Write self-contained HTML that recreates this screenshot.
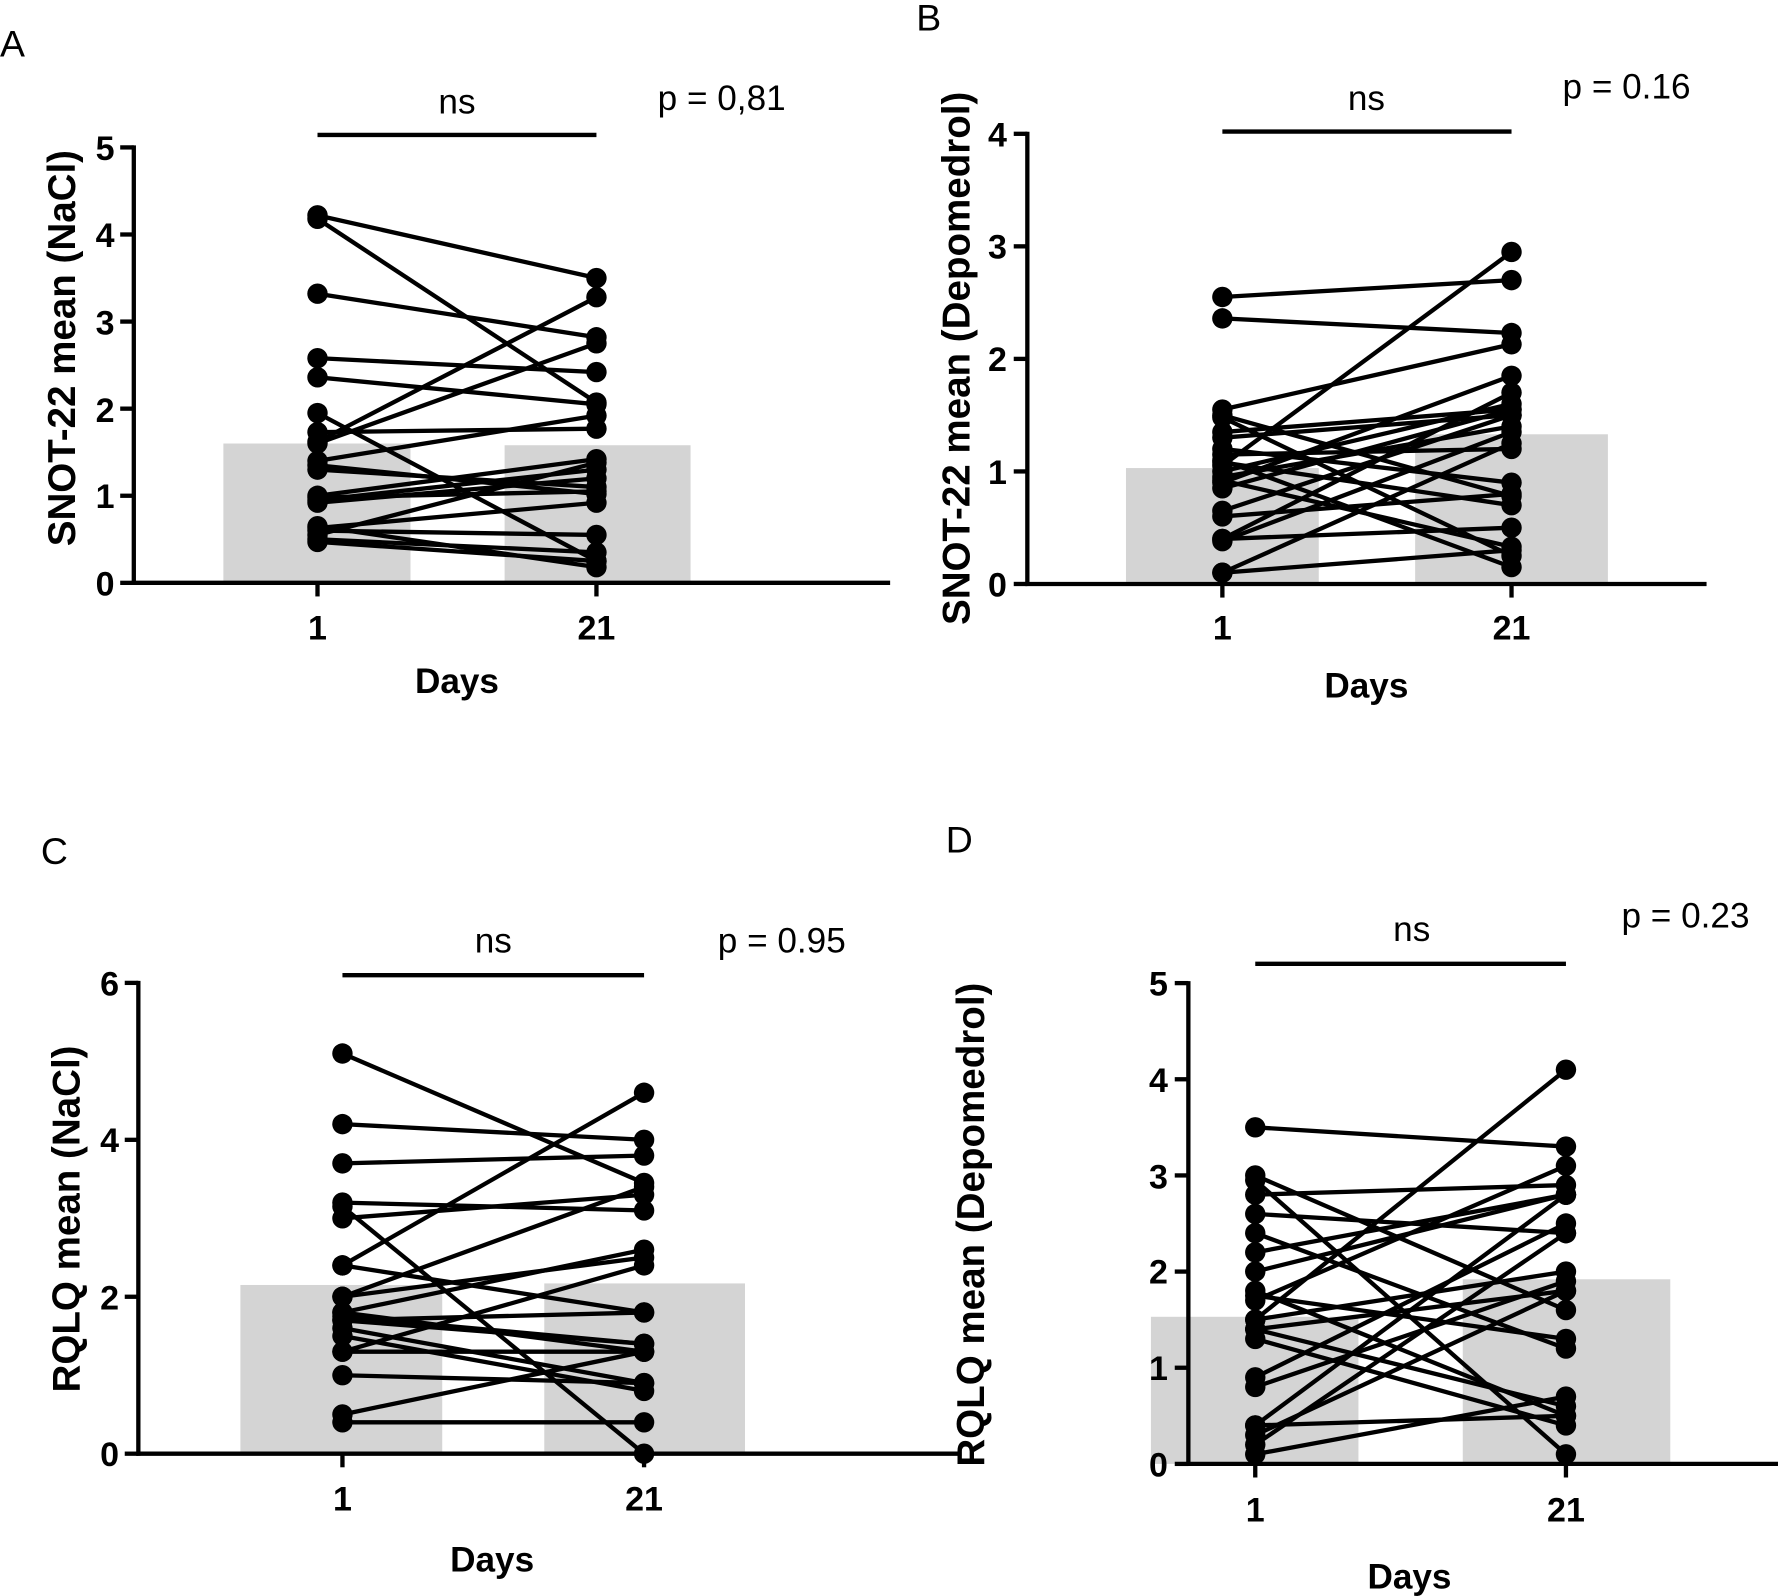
<!DOCTYPE html>
<html><head><meta charset="utf-8"><style>
html,body{margin:0;padding:0;background:#fff;}
svg{display:block;}
text{font-family:"Liberation Sans",Arial,sans-serif;}
.t{font-weight:bold;font-size:30px;}
.ax{font-weight:bold;font-size:31px;}
.yl{font-weight:bold;font-size:34px;}
.n{font-size:31px;}
.L{font-size:33px;}
</style></head><body>
<svg id="s" width="1778" height="1596" viewBox="0 0 1568 1407.5" xmlns="http://www.w3.org/2000/svg">
<rect width="1568" height="1408" fill="#fff"/>
<g id="plots"></g>
<text x="0" y="50" class="L">A</text>
<text x="403" y="100" class="n" text-anchor="middle">ns</text>
<text x="580" y="97" class="n">p = 0,81</text>
<text x="101" y="141" class="t" text-anchor="end">5</text>
<text x="101" y="218" class="t" text-anchor="end">4</text>
<text x="101" y="295" class="t" text-anchor="end">3</text>
<text x="101" y="372" class="t" text-anchor="end">2</text>
<text x="101" y="448" class="t" text-anchor="end">1</text>
<text x="101" y="525" class="t" text-anchor="end">0</text>
<text x="280" y="564" class="t" text-anchor="middle">1</text>
<text x="526" y="564" class="t" text-anchor="middle">21</text>
<text x="403" y="611" class="ax" text-anchor="middle">Days</text>
<text transform="translate(66,307) rotate(-90)" class="yl" text-anchor="middle">SNOT-22 mean (NaCl)</text>
<text x="808" y="27" class="L">B</text>
<text x="1205" y="97" class="n" text-anchor="middle">ns</text>
<text x="1378" y="87" class="n">p = 0.16</text>
<text x="888" y="129" class="t" text-anchor="end">4</text>
<text x="888" y="228" class="t" text-anchor="end">3</text>
<text x="888" y="327" class="t" text-anchor="end">2</text>
<text x="888" y="427" class="t" text-anchor="end">1</text>
<text x="888" y="526" class="t" text-anchor="end">0</text>
<text x="1078" y="564" class="t" text-anchor="middle">1</text>
<text x="1333" y="564" class="t" text-anchor="middle">21</text>
<text x="1205" y="615" class="ax" text-anchor="middle">Days</text>
<text transform="translate(855,316) rotate(-90)" class="yl" text-anchor="middle">SNOT-22 mean (Depomedrol)</text>
<text x="36" y="762" class="L">C</text>
<text x="435" y="840" class="n" text-anchor="middle">ns</text>
<text x="633" y="840" class="n">p = 0.95</text>
<text x="105" y="878" class="t" text-anchor="end">6</text>
<text x="105" y="1016" class="t" text-anchor="end">4</text>
<text x="105" y="1155" class="t" text-anchor="end">2</text>
<text x="105" y="1293" class="t" text-anchor="end">0</text>
<text x="302" y="1332" class="t" text-anchor="middle">1</text>
<text x="568" y="1332" class="t" text-anchor="middle">21</text>
<text x="434" y="1386" class="ax" text-anchor="middle">Days</text>
<text transform="translate(70,1075) rotate(-90)" class="yl" text-anchor="middle">RQLQ mean (NaCl)</text>
<text x="834" y="752" class="L">D</text>
<text x="1245" y="830" class="n" text-anchor="middle">ns</text>
<text x="1430" y="818" class="n">p = 0.23</text>
<text x="1030" y="878" class="t" text-anchor="end">5</text>
<text x="1030" y="963" class="t" text-anchor="end">4</text>
<text x="1030" y="1048" class="t" text-anchor="end">3</text>
<text x="1030" y="1132" class="t" text-anchor="end">2</text>
<text x="1030" y="1217" class="t" text-anchor="end">1</text>
<text x="1030" y="1302" class="t" text-anchor="end">0</text>
<text x="1107" y="1342" class="t" text-anchor="middle">1</text>
<text x="1381" y="1342" class="t" text-anchor="middle">21</text>
<text x="1243" y="1401" class="ax" text-anchor="middle">Days</text>
<text transform="translate(868,1080) rotate(-90)" class="yl" text-anchor="middle">RQLQ mean (Depomedrol)</text>
</svg>
<script>
var NS="http://www.w3.org/2000/svg",G=document.getElementById("plots");
function el(n,a){var e=document.createElementNS(NS,n);for(var k in a)e.setAttribute(k,a[k]);G.appendChild(e);return e;}
function panel(p){
 var y0=p.y0,u=p.u;function Y(v){return y0-v*u;}
 el("rect",{x:p.b1[0],y:Y(p.b1[2]),width:p.b1[1]-p.b1[0],height:p.b1[2]*u,fill:"#d4d4d4"});
 el("rect",{x:p.b2[0],y:Y(p.b2[2]),width:p.b2[1]-p.b2[0],height:p.b2[2]*u,fill:"#d4d4d4"});
 el("line",{x1:p.ax,y1:Y(p.max)-1.8,x2:p.ax,y2:y0+1.8,stroke:"#000","stroke-width":3.8});
 el("line",{x1:p.ax-1.8,y1:y0,x2:p.xend,y2:y0,stroke:"#000","stroke-width":3.8});
 for(var v=0;v<=p.max;v+=p.step)el("line",{x1:p.ax-12,y1:Y(v),x2:p.ax,y2:Y(v),stroke:"#000","stroke-width":3.8});
 [p.x1,p.x2].forEach(function(x){el("line",{x1:x,y1:y0,x2:x,y2:y0+12,stroke:"#000","stroke-width":3.8});});
 el("line",{x1:p.x1,y1:p.ns,x2:p.x2,y2:p.ns,stroke:"#000","stroke-width":3.8});
 p.d.forEach(function(d){el("line",{x1:p.x1,y1:Y(d[0]),x2:p.x2,y2:Y(d[1]),stroke:"#000","stroke-width":3.8});});
 p.d.forEach(function(d){el("circle",{cx:p.x1,cy:Y(d[0]),r:9});el("circle",{cx:p.x2,cy:Y(d[1]),r:9});});
}
panel({y0:514,u:76.8,ax:118,xend:785,max:5,step:1,x1:280,x2:526,ns:119,b1:[197,362,1.6],b2:[445,609,1.58],
d:[[4.22,3.5],[4.18,2.07],[3.32,2.82],[2.58,2.42],[2.36,2.05],[1.95,0.25],[1.73,1.77],[1.62,3.28],[1.6,2.75],[1.4,1.92],[1.35,1.02],[1.3,1.1],[1.0,1.42],[0.98,1.05],[0.95,1.3],[0.92,1.2],[0.63,0.92],[0.6,0.55],[0.55,1.38],[0.5,0.35],[0.47,0.25],[0.65,0.18]]});
panel({y0:515,u:99.25,ax:906,xend:1505,max:4,step:1,x1:1078,x2:1333,ns:116,b1:[993,1163,1.03],b2:[1248,1418,1.33],
d:[[2.55,2.7],[2.36,2.23],[1.55,2.13],[1.5,0.78],[1.48,0.25],[1.35,1.55],[1.3,1.5],[1.2,0.9],[1.15,1.2],[1.1,0.15],[1.05,2.95],[1.0,1.6],[0.95,1.4],[0.9,1.85],[0.85,1.55],[0.65,1.5],[0.6,0.8],[0.4,0.5],[0.38,1.35],[0.1,0.3],[0.1,1.25],[0.4,1.7],[1.08,0.7],[0.92,0.33]]});
panel({y0:1282,u:69.2,ax:122,xend:848,max:6,step:2,x1:302,x2:568,ns:860,b1:[212,390,2.15],b2:[480,657,2.17],
d:[[5.1,3.45],[4.2,4.0],[3.7,3.8],[3.2,3.1],[3.15,0],[3.0,3.3],[2.4,4.6],[2.4,1.8],[2.0,3.4],[2.0,2.5],[1.8,2.6],[1.8,1.3],[1.7,1.4],[1.7,1.8],[1.6,0.9],[1.5,0.8],[1.3,1.3],[1.3,2.4],[1.0,0.9],[0.5,1.3],[0.4,0.4],[1.75,1.4]]});
panel({y0:1291,u:84.8,ax:1048,xend:1568,max:5,step:1,x1:1107,x2:1381,ns:850,b1:[1015,1198,1.53],b2:[1290,1473,1.92],
d:[[3.5,3.3],[3.0,1.6],[2.8,2.9],[2.6,2.4],[2.4,1.2],[2.2,2.8],[2.0,2.8],[1.8,0.5],[1.7,3.1],[1.5,4.1],[1.5,2.0],[1.4,1.8],[1.4,0.6],[1.3,0.4],[0.9,2.5],[0.8,1.9],[0.4,2.8],[0.3,1.8],[0.2,2.4],[0.1,0.7],[0.4,0.5],[1.75,1.3],[2.95,0.1]]});
</script>
</body></html>
